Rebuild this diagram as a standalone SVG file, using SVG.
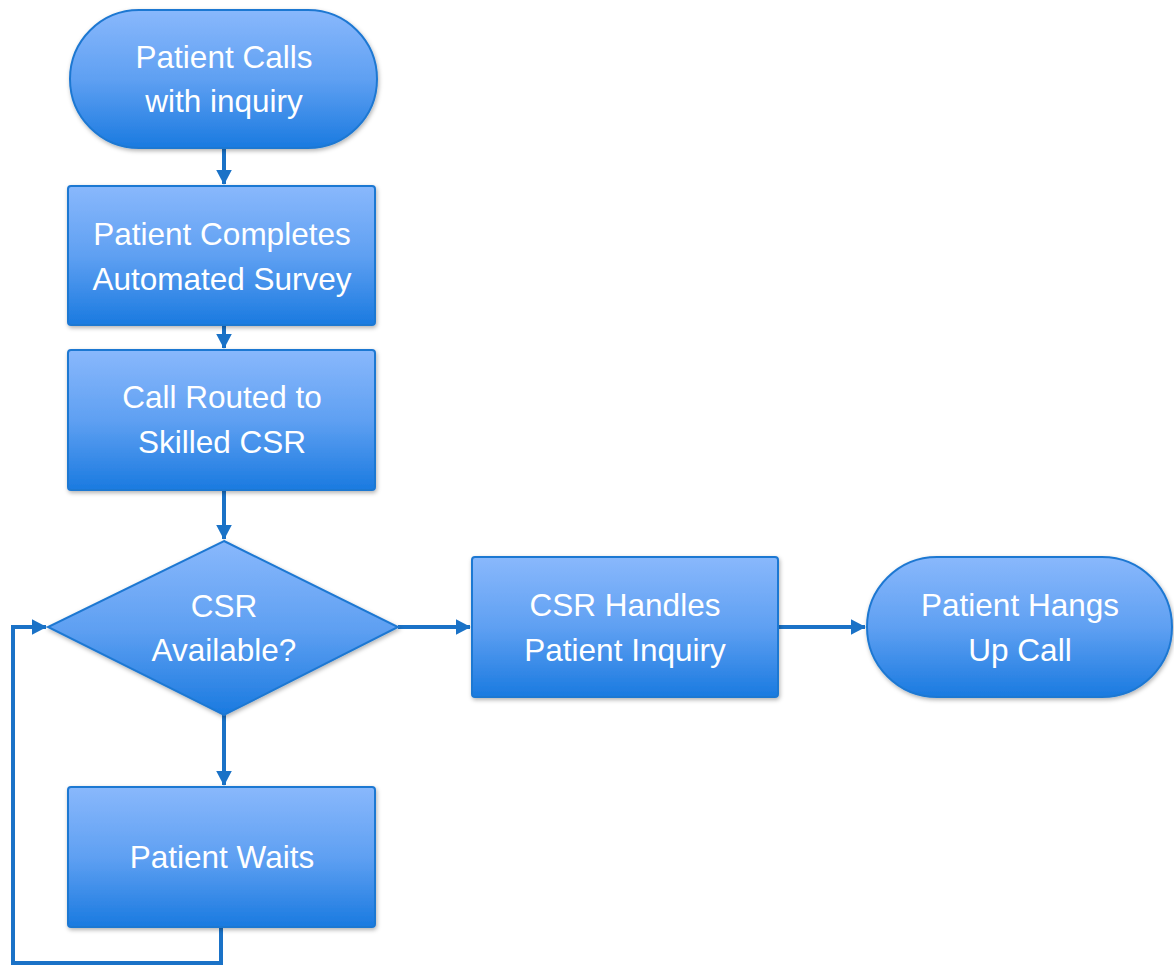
<svg xmlns="http://www.w3.org/2000/svg" width="1174" height="968" viewBox="0 0 1174 968">
<defs>
<linearGradient id="g" x1="0" y1="0" x2="0" y2="1">
<stop offset="0" stop-color="#89b8fc"/>
<stop offset="0.5" stop-color="#5fa0f2"/>
<stop offset="1" stop-color="#1a7ae0"/>
</linearGradient>
<filter id="sh" x="-10%" y="-10%" width="120%" height="125%">
<feDropShadow dx="1" dy="2" stdDeviation="2" flood-color="#000" flood-opacity="0.3"/>
</filter>
<marker id="ah" markerWidth="5" markerHeight="5" refX="3.6" refY="2.1" orient="auto" markerUnits="strokeWidth">
<path d="M0,0.1 L3.8,2.1 L0,4.1 Z" fill="#1a72c7"/>
</marker>
</defs>
<style>
.n{fill:url(#g);stroke:#1f78d2;stroke-width:2;filter:url(#sh)}
.t{font-family:"Liberation Sans",Arial,sans-serif;font-size:31.5px;fill:#fff;text-anchor:middle}
.c{fill:none;stroke:#1a72c7;stroke-width:4}
</style>
<rect width="1174" height="968" fill="#fff"/>
<g id="connectors">
<path class="c" d="M224,148 V184" marker-end="url(#ah)"/>
<path class="c" d="M224,325 V348" marker-end="url(#ah)"/>
<path class="c" d="M224,490 V539" marker-end="url(#ah)"/>
<path class="c" d="M398,627 H470" marker-end="url(#ah)"/>
<path class="c" d="M778,627 H865" marker-end="url(#ah)"/>
<path class="c" d="M224,715 V785" marker-end="url(#ah)"/>
<path class="c" d="M221,927 V963 H13 V627 H46" marker-end="url(#ah)"/>
</g>
<g id="n1">
<rect class="n" x="70" y="10" width="307" height="138" rx="69" ry="69"/>
<text class="t" x="224" y="68">Patient Calls</text>
<text class="t" x="224" y="112">with inquiry</text>
</g>
<g id="n2">
<rect class="n" x="68" y="186" width="307" height="139" rx="3"/>
<text class="t" x="222" y="245">Patient Completes</text>
<text class="t" x="222" y="290">Automated Survey</text>
</g>
<g id="n3">
<rect class="n" x="68" y="350" width="307" height="140" rx="3"/>
<text class="t" x="222" y="408">Call Routed to</text>
<text class="t" x="222" y="453">Skilled CSR</text>
</g>
<g id="n4">
<polygon class="n" points="224,541 398,627 224,715 48,627"/>
<text class="t" x="224" y="617">CSR</text>
<text class="t" x="224" y="661">Available?</text>
</g>
<g id="n5">
<rect class="n" x="68" y="787" width="307" height="140" rx="3"/>
<text class="t" x="222" y="868">Patient Waits</text>
</g>
<g id="n6">
<rect class="n" x="472" y="557" width="306" height="140" rx="3"/>
<text class="t" x="625" y="616">CSR Handles</text>
<text class="t" x="625" y="661">Patient Inquiry</text>
</g>
<g id="n7">
<rect class="n" x="867" y="557" width="305" height="140" rx="70" ry="70"/>
<text class="t" x="1020" y="616">Patient Hangs</text>
<text class="t" x="1020" y="661">Up Call</text>
</g>
</svg>
